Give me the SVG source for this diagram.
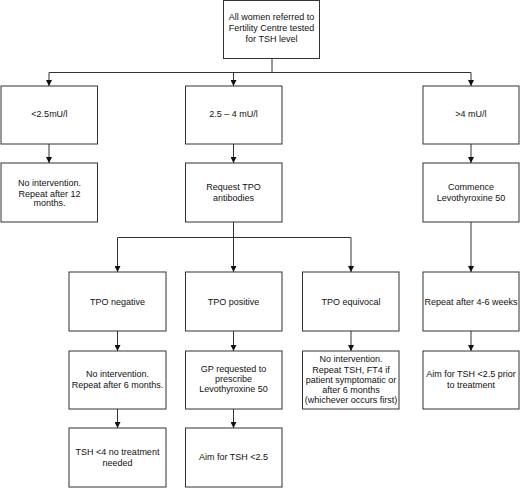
<svg xmlns="http://www.w3.org/2000/svg" width="520" height="488" viewBox="0 0 520 488">
<defs>
<marker id="ah" viewBox="0 0 6 6" refX="6" refY="3" markerWidth="6" markerHeight="6" markerUnits="userSpaceOnUse" orient="auto">
<path d="M0,0 L6,3 L0,6 z" fill="#111"/>
</marker>
<style>
rect{fill:#fff;stroke:#333;stroke-width:1}
text{font-family:"Liberation Sans",Arial,sans-serif;font-size:9px;fill:#111;text-anchor:middle}
#connectors path{fill:none;stroke:#333;stroke-width:1}
.a{marker-end:url(#ah)}
</style>
</defs>
<rect x="0" y="0" width="520" height="488" style="fill:#fff;stroke:none"/>
<g id="connectors">
<path d="M272,58 V72.5 M49,72.5 H471"/>
<path class="a" d="M49,72.5 V86"/>
<path class="a" d="M233.5,72.5 V86"/>
<path class="a" d="M471,72.5 V86"/>
<path class="a" d="M49,144 V163"/>
<path class="a" d="M233.5,144 V163"/>
<path class="a" d="M471,144 V163"/>
<path d="M233.5,222 V237.5 M117.5,237.5 H351"/>
<path class="a" d="M117.5,237.5 V272"/>
<path class="a" d="M233.5,237.5 V272"/>
<path class="a" d="M351,237.5 V272"/>
<path class="a" d="M471,222 V272"/>
<path class="a" d="M117.5,331 V351"/>
<path class="a" d="M233.5,331 V351"/>
<path class="a" d="M351,331 V351"/>
<path class="a" d="M471,331 V351"/>
<path class="a" d="M117.5,409 V428"/>
<path class="a" d="M233.5,409 V428"/>
</g>
<g id="n-root"><rect x="223.5" y="0.5" width="96" height="58"/>
<text x="271.5" y="20">All women referred to</text><text x="271.5" y="31">Fertility Centre tested</text><text x="271.5" y="42">for TSH level</text></g>
<g id="n-low"><rect x="1" y="86" width="96.5" height="58"/><text x="49.5" y="116.5">&lt;2.5mU/l</text></g>
<g id="n-mid"><rect x="185.5" y="86" width="96.5" height="58"/><text x="233.5" y="116.5">2.5 – 4 mU/l</text></g>
<g id="n-high"><rect x="423" y="86" width="96" height="58"/><text x="471" y="116.5">&gt;4 mU/l</text></g>
<g id="n-low2"><rect x="1" y="163" width="96.5" height="59"/><text x="49.5" y="186">No intervention.</text><text x="49.5" y="196.5">Repeat after 12</text><text x="49.5" y="206">months.</text></g>
<g id="n-mid2"><rect x="185.5" y="163" width="96.5" height="59"/><text x="233.5" y="190">Request TPO</text><text x="233.5" y="200.5">antibodies</text></g>
<g id="n-high2"><rect x="423" y="163" width="96" height="59"/><text x="471" y="190">Commence</text><text x="471" y="200.5">Levothyroxine 50</text></g>
<g id="n-neg"><rect x="69" y="272" width="97" height="59"/><text x="117.5" y="305">TPO negative</text></g>
<g id="n-pos"><rect x="185.5" y="272" width="96.5" height="59"/><text x="233.5" y="305">TPO positive</text></g>
<g id="n-equ"><rect x="302.5" y="272" width="96.5" height="59"/><text x="351" y="305">TPO equivocal</text></g>
<g id="n-high3"><rect x="423" y="272" width="96" height="59"/><text x="471" y="305">Repeat after 4-6 weeks</text></g>
<g id="n-neg2"><rect x="69" y="351" width="97" height="58"/><text x="117.5" y="376.5">No intervention.</text><text x="117.5" y="387.5">Repeat after 6 months.</text></g>
<g id="n-pos2"><rect x="185.5" y="351" width="96.5" height="58"/><text x="233.5" y="371.5">GP requested to</text><text x="233.5" y="381.5">prescribe</text><text x="233.5" y="392">Levothyroxine 50</text></g>
<g id="n-equ2"><rect x="302.5" y="351" width="96.5" height="58"/><text x="351" y="362">No intervention.</text><text x="351" y="372.7">Repeat TSH, FT4 if</text><text x="351" y="383">patient symptomatic or</text><text x="351" y="393">after 6 months</text><text x="351" y="403.3">(whichever occurs first)</text></g>
<g id="n-high4"><rect x="423" y="351" width="96" height="58"/><text x="471" y="377">Aim for TSH &lt;2.5 prior</text><text x="471" y="388">to treatment</text></g>
<g id="n-neg3"><rect x="69" y="428" width="97" height="59"/><text x="117.5" y="455">TSH &lt;4 no treatment</text><text x="117.5" y="465.5">needed</text></g>
<g id="n-pos3"><rect x="185.5" y="428" width="96.5" height="59"/><text x="233.5" y="460">Aim for TSH &lt;2.5</text></g>
</svg>
